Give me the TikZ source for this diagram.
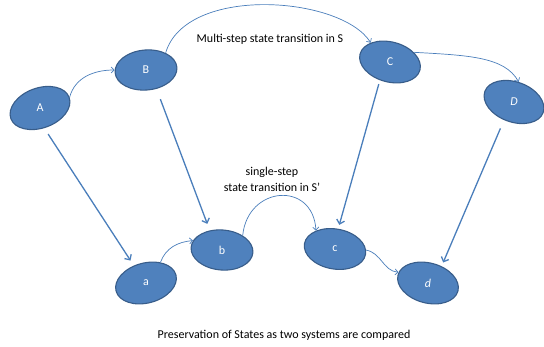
\documentclass[tikz,border=0pt]{standalone}
\usepackage{fontspec}
\setmainfont{Carlito}
\usetikzlibrary{shapes.geometric,arrows.meta}
\definecolor{stfill}{HTML}{4F81BD}
\definecolor{stline}{HTML}{385D8A}
\definecolor{arline}{HTML}{4A7EBB}
\begin{document}
\begin{tikzpicture}[x=1pt,y=1pt,font=\fontsize{12}{16}\selectfont,
		stnode/.style={ellipse,draw=stline,fill=stfill,line width=1.1pt,minimum width=62pt,minimum height=40pt,inner sep=0pt,text=white},
		hop/.style={arline,line width=.7pt,-{Straight Barb[length=3pt,width=6pt]}},
		map/.style={arline,line width=1.3pt,-{Straight Barb[length=4pt,width=8pt]}}]
		\useasboundingbox (0,0) rectangle (544,346);
		% states of S
		\node[stnode,rotate=20] (A) at (40,238) {\rotatebox{-20}{A}};
		\node[stnode,rotate=5] (B) at (146,276) {\rotatebox{-5}{B}};
		\node[stnode,rotate=-15] (C) at (390,284) {\rotatebox{15}{C}};
		\node[stnode,rotate=-20] (D) at (514,244) {\rotatebox{20}{\textit{D}}};
		% states of S'
		\node[stnode,rotate=15] (a) at (146,63) {\rotatebox{-15}{a}};
		\node[stnode,rotate=-5] (b) at (222,96) {\rotatebox{5}{b}};
		\node[stnode,rotate=-10] (c) at (335,97) {\rotatebox{10}{c}};
		\node[stnode,rotate=-15] (d) at (428,63) {\rotatebox{15}{\textit{d}}};
		% transitions
		\draw[hop] (A.0) to[out=75,in=180] (B.175);
		\draw[hop] (B.36) .. controls +(20,68) and +(-30,47) .. (C.150);
		\draw[hop] (C.37) .. controls +(55,-3) and +(-14,25) .. (D.97);
		\draw[hop] (a.40) to[out=70,in=185] (b.167);
		\draw[hop] (b.40) .. controls +(5,50) and +(-3,50) .. (c.146);
		\draw[hop] (c.8) to[out=-10,in=175] (d.175);
		% mappings S -> S'
		\draw[map,shorten <=7pt,shorten >=6pt] (A.262) -- (a.110);
		\draw[map,shorten <=11pt,shorten >=7pt] (B.294) -- (b.127);
		\draw[map,shorten <=4pt,shorten >=4pt] (C.256) -- (c.91);
		\draw[map,shorten <=9pt,shorten >=4pt] (D.261) -- (d.66);
		% labels
		\node (multi) at (270,307) {Multi-step state transition in S};
		\node[align=center] (single) at (272,167) {single-step\\state transition in S’};
		\node (caption) at (284,11) {Preservation of States as two systems are compared};
	\end{tikzpicture}
\end{document}
